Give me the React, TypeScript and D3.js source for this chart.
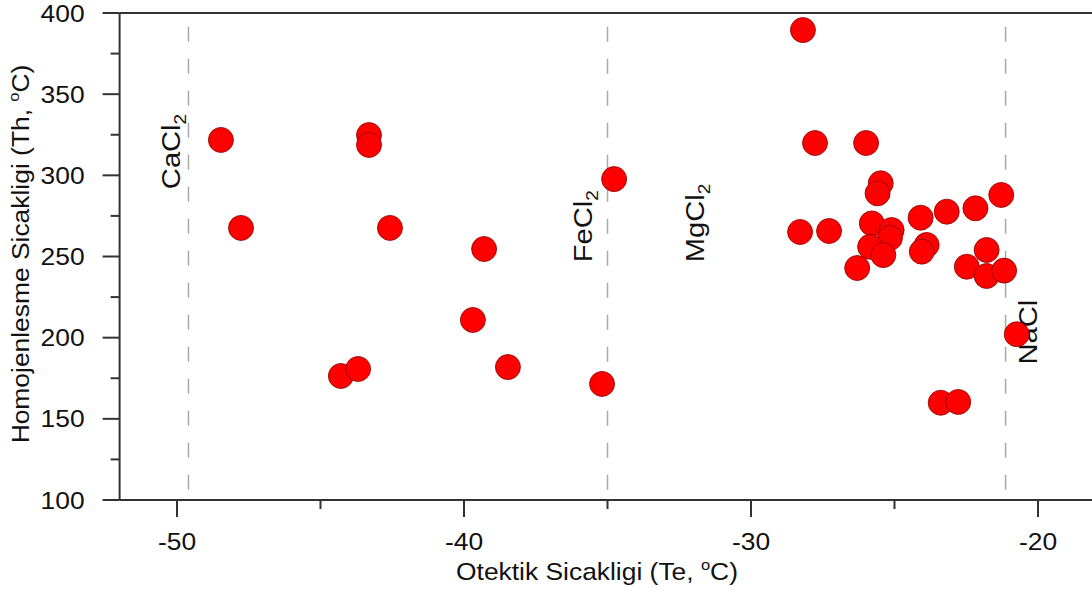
import React from 'react';
import * as d3 from 'd3';

// eutectic temperature (Te) vs homogenisation temperature (Th)
const teValues = [
  -48.47, -47.77, -43.31, -43.31, -42.58, -44.29, -43.69, -39.3, -39.69, -38.47,
  -35.19, -34.77, -28.19, -27.77, -28.29, -27.28, -25.99, -26.3, -25.48, -25.59,
  -25.79, -25.1, -25.16, -25.85, -25.39, -24.09, -23.18, -22.18, -21.28, -23.88,
  -24.05, -21.79, -22.48, -21.79, -21.18, -20.74, -23.39, -22.78
];
const thValues = [
  321.8, 267.6, 324.8, 318.7, 267.6, 176.4, 180.7, 254.6, 210.9, 181.9,
  171.5, 297.7, 389.5, 319.9, 265.1, 265.7, 319.9, 242.9, 295.1, 288.9,
  270.4, 266.3, 261.4, 256.0, 250.9, 273.9, 277.6, 279.7, 287.9, 257.1,
  253.0, 254.0, 243.7, 238.0, 241.3, 202.1, 159.9, 160.4
];

// reference eutectic lines
const saltLines = [-49.6, -35.0, -21.13];
const saltNames = ['CaCl', 'FeCl', 'MgCl', 'NaCl'];
const saltSubs = ['2', '2', '2', ''];
const saltLabelX = [-49.9, -35.55, -31.65, -20.05];
const saltLabelY = [291.5, 246.5, 246.5, 183.5];

const xMajor = [-50, -40, -30, -20];
const xMinor = [-45, -35, -25];
const yMajor = [100, 150, 200, 250, 300, 350, 400];
const yMinor = [125, 175, 225, 275, 325, 375];

const W = 1092;
const H = 597;
const FONT = '"Liberation Sans", Arial, sans-serif';
const AXIS = '#333';

export default function App() {
  const x = d3.scaleLinear().domain([-52, -20]).range([119.6, 1038]);
  const y = d3.scaleLinear().domain([100, 400]).range([500, 13]);
  const left = x(-52);
  const bottom = y(100);
  const top = y(400);

  return (
    <svg width={W} height={H} style={{ position: 'absolute', left: 0, top: 0, background: '#fff' }}
      fontFamily={FONT}>
      {/* frame */}
      <line x1={left} x2={left} y1={top} y2={bottom} stroke={AXIS} strokeWidth={2} />
      <line x1={left} x2={W} y1={bottom} y2={bottom} stroke={AXIS} strokeWidth={2} />
      <line x1={left} x2={W} y1={top} y2={top} stroke={AXIS} strokeWidth={2} />

      {/* y ticks */}
      {yMajor.map(v => (
        <g key={'ym' + v}>
          <line x1={left - 17} x2={left} y1={y(v)} y2={y(v)} stroke={AXIS} strokeWidth={2} />
          <text transform={`translate(${left - 35},${y(v) + 8.5}) scale(1.1,1)`} textAnchor="end"
            fontSize={24} fill="#111">{v}</text>
        </g>
      ))}
      {yMinor.map(v => (
        <line key={'yn' + v} x1={left - 9} x2={left} y1={y(v)} y2={y(v)} stroke={AXIS} strokeWidth={2} />
      ))}

      {/* x ticks */}
      {xMajor.map(v => (
        <g key={'xm' + v}>
          <line x1={x(v)} x2={x(v)} y1={bottom} y2={bottom + 17} stroke={AXIS} strokeWidth={2} />
          <text transform={`translate(${x(v)},${bottom + 50}) scale(1.1,1)`} textAnchor="middle"
            fontSize={24} fill="#111">{v}</text>
        </g>
      ))}
      {xMinor.map(v => (
        <line key={'xn' + v} x1={x(v)} x2={x(v)} y1={bottom} y2={bottom + 9} stroke={AXIS} strokeWidth={2} />
      ))}

      {/* axis titles */}
      <text transform={`translate(597,580) scale(1.1,1)`} textAnchor="middle" fontSize={24} fill="#111">
        Otektik Sicakligi (Te, <tspan fontSize={15} dy={-10}>o</tspan><tspan dy={10}>C)</tspan>
      </text>
      <text transform={`translate(29,254) rotate(-90) scale(1.1,1)`} textAnchor="middle" fontSize={24} fill="#111">
        Homojenlesme Sicakligi (Th, <tspan fontSize={15} dy={-10}>o</tspan><tspan dy={10}>C)</tspan>
      </text>

      {/* eutectic reference lines */}
      {saltLines.map(v => (
        <line key={'s' + v} x1={x(v)} x2={x(v)} y1={y(391.5)} y2={bottom}
          stroke="#aaa" strokeWidth={1.5} strokeDasharray="15,17" />
      ))}
      {saltNames.map((n, i) => (
        <text key={n} transform={`translate(${x(saltLabelX[i])},${y(saltLabelY[i])}) rotate(-90) scale(1.12,1)`}
          fontSize={26} fill="#111">
          {n}{saltSubs[i] && <tspan fontSize={17} dy={6}>{saltSubs[i]}</tspan>}
        </text>
      ))}

      {/* data points */}
      {teValues.map((v, i) => (
        <circle key={'p' + i} cx={x(v)} cy={y(thValues[i])} r={12.5}
          fill="#ff0000" stroke="#8a0000" strokeWidth={0.8} />
      ))}
    </svg>
  );
}
